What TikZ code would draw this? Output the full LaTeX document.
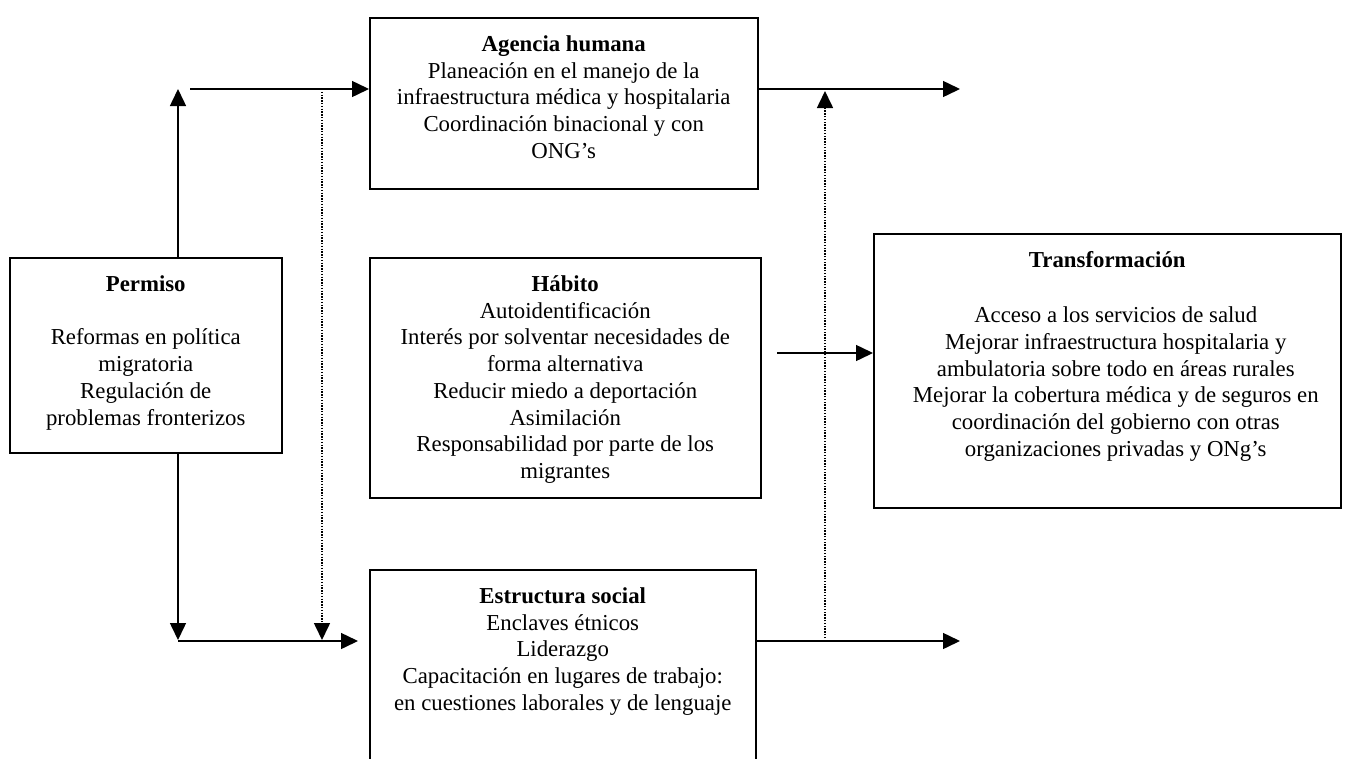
\documentclass[tikz,border=0pt]{standalone}
\usepackage{fontspec}
\setmainfont{Liberation Serif}
\usetikzlibrary{arrows.meta}
\newcommand\boxtxt[4][]{\begin{minipage}[t][#3][t]{#2}\fontsize{22.8}{26.75}\selectfont\vspace*{15pt}\centering#1\strut #4\end{minipage}}
\tikzset{
  box/.style={draw, line width=1.5pt, inner sep=0pt, anchor=north west},
  conn/.style={line width=1.5pt, -{Triangle[length=17pt,width=16pt]}},
  dotconn/.style={line width=1.6pt, dash pattern=on 1.4pt off 1.4pt, -{Triangle[length=17pt,width=16pt]}}
}
\begin{document}
\begin{tikzpicture}[x=1pt,y=-1pt]
\clip (0,0) rectangle (1347,758);
\fill[white] (0,0) rectangle (1347,758);
\node[box] (age) at (369,17) {\boxtxt{388pt}{171pt}{\textbf{Agencia humana}\\
Planeación en el manejo de la\\
infraestructura médica y hospitalaria\\
Coordinación binacional y con\\
ONG’s}};
\node[box] (hab) at (369,257) {\boxtxt{391pt}{240pt}{\textbf{Hábito}\\
Autoidentificación\\
Interés por solventar necesidades de\\
forma alternativa\\
Reducir miedo a deportación\\
Asimilación\\
Responsabilidad por parte de los\\
migrantes}};
\node[box] (est) at (369,569) {\boxtxt{386pt}{215pt}{\textbf{Estructura social}\\
Enclaves étnicos\\
Liderazgo\\
Capacitación en lugares de trabajo:\\
en cuestiones laborales y de lenguaje}};
\node[box] (per) at (9,257) {\boxtxt{272pt}{195pt}{\textbf{Permiso}\\[26.75pt]
Reformas en política\\
migratoria\\
Regulación de\\
problemas fronterizos}};
\node[box] (tra) at (873,233) {\boxtxt[\leftskip=17pt plus 1fil]{467pt}{274pt}{\hspace*{-17pt}\textbf{Transformación}\\[28.5pt]
Acceso a los servicios de salud\hspace*{38pt}\\
Mejorar infraestructura hospitalaria y\\
ambulatoria sobre todo en áreas rurales\\
Mejorar la cobertura médica y de seguros en\\
coordinación del gobierno con otras\\
organizaciones privadas y ONg’s}};
% left connectors
\coordinate (uptip) at (178,89);
\draw[conn] (uptip |- per.north) -- (uptip);
\coordinate (hstart) at (190,89);
\draw[conn] (hstart) -- (hstart -| age.west);
\coordinate (dtop) at (322,89);
\coordinate (dtip) at (322,640);
\draw[dotconn] (dtop) -- (dtip);
\coordinate (downtip) at (178,640);
\draw[conn] (downtip |- per.south) -- (downtip);
\coordinate (bstart) at (178,641);
\coordinate (btip) at (358,641);
\draw[conn] (bstart) -- (btip);
% right connectors
\coordinate (atip) at (960,89);
\draw[conn] (atip -| age.east) -- (atip);
\coordinate (rdb) at (825,641);
\coordinate (rdt) at (825,91);
\draw[dotconn] (rdb) -- (rdt);
\coordinate (etip) at (960,641);
\draw[conn] (etip -| est.east) -- (etip);
\coordinate (hbs) at (777,353);
\draw[conn] (hbs) -- (hbs -| tra.west);
\end{tikzpicture}
\end{document}
